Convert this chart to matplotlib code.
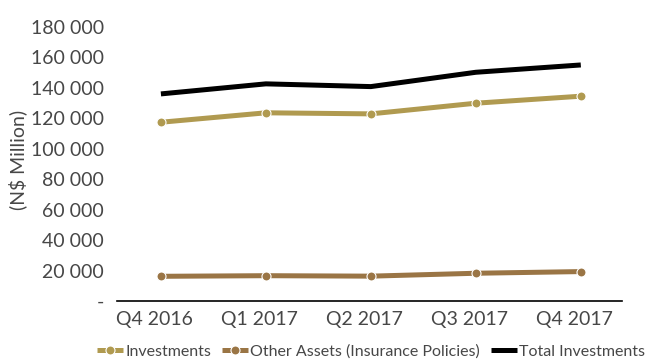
import matplotlib
matplotlib.use("Agg")
import matplotlib.pyplot as plt
import matplotlib.transforms as mtransforms
from matplotlib.ticker import FuncFormatter

plt.rcParams['font.family'] = ['Lato', 'DejaVu Sans']

quarters = ["Q4 2016", "Q1 2017", "Q2 2017", "Q3 2017", "Q4 2017"]
investments = [117300, 123500, 122800, 129800, 134400]
other_assets = [16200, 16600, 16300, 18200, 19300]
total_investments = [135900, 142500, 140700, 150100, 154900]

text_color = "#474747"
gold = "#B09A50"
brown = "#9A7545"

fig = plt.figure(figsize=(6.49, 3.59), dpi=100)
ax = fig.add_axes([0.180, 0.1616, 0.778, 0.764])

x = list(range(len(quarters)))
ax.plot(x, investments, color=gold, lw=3.6, marker="o", ms=6.5,
        mfc=gold, mec="white", mew=0.8, label="Investments", solid_capstyle="butt")
ax.plot(x, other_assets, color=brown, lw=3.6, marker="o", ms=6.5,
        mfc=brown, mec="white", mew=0.8, label="Other Assets (Insurance Policies)",
        solid_capstyle="butt")
ax.plot(x, total_investments, color="black", lw=3.6,
        label="Total Investments", solid_capstyle="butt")

ax.set_xlim(-0.42, 4.39)
ax.set_ylim(0, 180000)
ax.set_yticks(range(0, 180001, 20000))
ax.yaxis.set_major_formatter(FuncFormatter(
    lambda v, p: "-" if v == 0 else f"{int(v):,}".replace(",", " ")))
ax.set_xticks(x)
ax.set_xticklabels(quarters)

for s in ["top", "right", "left"]:
    ax.spines[s].set_visible(False)
ax.spines["bottom"].set_color("black")
ax.spines["bottom"].set_linewidth(1.2)

ax.tick_params(axis="both", length=0, labelsize=14, colors=text_color)
ax.tick_params(axis="y", pad=9.5)
ax.tick_params(axis="x", pad=7)

offset = mtransforms.ScaledTranslation(-6 / 100, 0, fig.dpi_scale_trans)
for lbl in ax.get_xticklabels():
    lbl.set_transform(lbl.get_transform() + offset)

fig.text(0.028, 0.555, "(N$ Million)", rotation=90, ha="center", va="center",
         fontsize=14, color=text_color)

leg = fig.legend(loc="center", bbox_to_anchor=(0.572, 0.02), ncol=3, frameon=False,
                 fontsize=11.5, handlelength=1.6, handletextpad=0.15, columnspacing=0.7,
                 labelcolor=text_color, borderpad=0.1)

fig.savefig("out.png", dpi=100)
